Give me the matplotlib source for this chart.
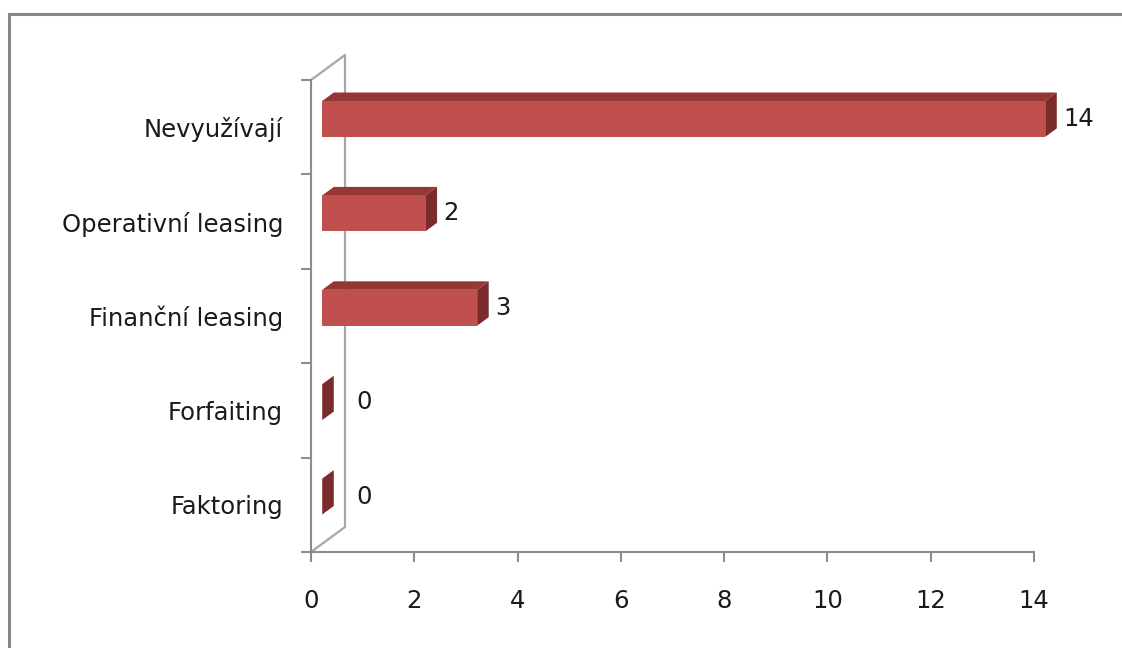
import numpy as np
import matplotlib.pyplot as plt
from matplotlib.patches import Polygon, Rectangle

categories = ["Faktoring", "Forfaiting", "Finanční leasing", "Operativní leasing", "Nevyužívají"]
values = [0, 0, 3, 2, 14]
x_ticks = [0, 2, 4, 6, 8, 10, 12, 14]

plt.rcParams['font.family'] = ['DejaVu Sans']

W, H = 1122, 648
fig = plt.figure(figsize=(W / 100, H / 100), dpi=100)

# pixel scale of the plot: x=0 at px 311, x=14 at px 1034, y=0 at px 552, y=5 at px 80
px_x = (1034 - 311) / 14
px_y = (552 - 80) / 5
xmax, ymax = 15.5, 5.6
ax = fig.add_axes([311 / W, (H - 552) / H, xmax * px_x / W, ymax * px_y / H])
ax.set_xlim(0, xmax)
ax.set_ylim(0, ymax)
ax.patch.set_visible(False)

# depth vector of the 3d box (one full depth unit)
ddx = 34 / px_x
ddy = 25 / px_y
d0, d1 = 0.33, 0.67     # bar front / back depth
bh = 0.38               # bar thickness in category units

front_c = '#C0504D'
top_c = '#953735'
side_c = '#7A2C2A'
grid_c = '#8C8C8C'

# back wall of the category axis
ax.plot([0, ddx, ddx, 0], [len(categories), len(categories) + ddy, ddy, 0],
        color='#A6A6A6', lw=1.6, clip_on=False, zorder=1)

for i, (cat, v) in enumerate(zip(categories, values)):
    yc = i + 0.5
    y0 = yc - bh / 2 + d0 * ddy
    y1 = yc + bh / 2 + d0 * ddy
    xf0 = d0 * ddx
    xf1 = v + d0 * ddx
    sx = (d1 - d0) * ddx
    sy = (d1 - d0) * ddy
    # top face
    ax.add_patch(Polygon([(xf0, y1), (xf1, y1), (xf1 + sx, y1 + sy), (xf0 + sx, y1 + sy)],
                         closed=True, fc=top_c, ec='none', zorder=3))
    # right side face
    ax.add_patch(Polygon([(xf1, y0), (xf1 + sx, y0 + sy), (xf1 + sx, y1 + sy), (xf1, y1)],
                         closed=True, fc=side_c, ec='none', zorder=3))
    # front face
    if v > 0:
        ax.add_patch(Rectangle((xf0, y0), v, bh, fc=front_c, ec='none', zorder=4))
    off = 16 if v == 0 else 4.5
    ax.annotate(str(v), (xf1 + sx, yc + d0 * ddy), xytext=(off, 0), textcoords='offset points',
                va='center', ha='left', fontsize=17.5, color='#1a1a1a', zorder=5)

for s in ['top', 'right']:
    ax.spines[s].set_visible(False)
ax.spines['left'].set_bounds(0, len(categories))
ax.spines['bottom'].set_bounds(0, 14)
for s in ['left', 'bottom']:
    ax.spines[s].set_color(grid_c)
    ax.spines[s].set_linewidth(1.5)
    ax.spines[s].set_zorder(2)

ax.set_xticks(x_ticks)
ax.set_xticklabels([str(t) for t in x_ticks])
ax.tick_params(axis='x', direction='out', length=7, width=1.5, color=grid_c,
               labelsize=17.5, pad=20, labelcolor='#1a1a1a')
ax.set_yticks(np.arange(len(categories) + 1))
ax.set_yticklabels([])
ax.set_yticks(np.arange(len(categories)) + 0.5, minor=True)
ax.set_yticklabels(categories, minor=True)
ax.tick_params(axis='y', which='major', direction='out', length=7, width=1.5, color=grid_c)
ax.tick_params(axis='y', which='minor', length=0, labelsize=17.5, pad=20, labelcolor='#1a1a1a')

# outer chart frame
fig.patches.append(Rectangle((9 / W, -0.05), 1.2, (H - 14) / H + 0.05, transform=fig.transFigure,
                             fill=False, ec='#878787', lw=2.2))

fig.savefig('out.png', dpi=100)
